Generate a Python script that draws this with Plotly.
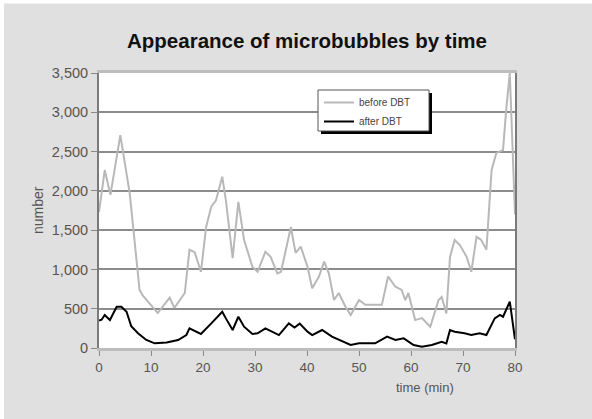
import plotly.graph_objects as go

# ---- data ----
before_t = [0, 1.1, 2.2, 4.1, 5.9, 7.8, 8.4, 11.3, 13.6, 14.5, 16.5, 17.4, 18.4, 19.6,
            20.6, 21.6, 22.5, 23.7, 24.4, 25.7, 26.8, 27.9, 29.5, 30.5, 32, 33, 34.3,
            35, 36.9, 37.8, 38.8, 40.1, 41, 42.3, 43.3, 44.2, 45.2, 46.1, 47.4, 48.4,
            50, 51.2, 54.4, 55.6, 57, 58.2, 58.9, 59.5, 60.8, 62.1, 63.7, 65.3, 65.9,
            66.8, 67.5, 68.4, 69.4, 70.7, 71.6, 72.6, 73.5, 74.5, 75.5, 76.4, 77.7,
            78.3, 79, 80]
before_v = [1730, 2265, 1950, 2710, 1970, 740, 670, 445, 640, 510, 700, 1250, 1220, 970,
            1540, 1800, 1880, 2180, 1880, 1145, 1860, 1375, 1035, 970, 1225, 1160, 950,
            970, 1540, 1210, 1290, 1035, 760, 910, 1100, 950, 610, 700, 525, 420,
            610, 550, 550, 910, 780, 740, 610, 700, 355, 380, 270, 610, 650,
            440, 1160, 1375, 1310, 1160, 970, 1415, 1375, 1250, 2265, 2480, 2520,
            3030, 3500, 1700]

after_t = [0, 0.5, 1.1, 2.1, 3.4, 4.3, 5.3, 6.2, 7.5, 9.1, 10.7, 13, 15.2, 16.8, 17.4,
           18.7, 19.6, 21.6, 23.7, 24.4, 25.7, 26.8, 27.9, 29.5, 30.5, 32, 33.3, 34.6,
           36.5, 37.6, 38.6, 40.1, 41, 42.9, 44.8, 46.8, 48.4, 50, 53.1, 55.4, 57,
           58.6, 60.5, 62.1, 64, 65.9, 66.8, 67.5, 68.4, 70.3, 71.6, 73.2, 74.5, 76.1,
           77.1, 77.7, 79, 80]
after_v = [350, 360, 420, 356, 525, 525, 462, 276, 187, 102, 59, 70, 102, 165, 250,
           208, 178, 314, 462, 377, 229, 398, 271, 178, 187, 250, 208, 165,
           314, 260, 310, 208, 165, 229, 144, 80, 38, 59, 59, 144, 102,
           123, 38, 17, 38, 80, 59, 229, 208, 187, 165, 187, 165, 377,
           420, 398, 589, 110]

x_ticks = [0, 10, 20, 30, 40, 50, 60, 70, 80]
y_ticks = [0, 500, 1000, 1500, 2000, 2500, 3000, 3500]
y_tick_labels = ["0", "500", "1,000", "1,500", "2,000", "2,500", "3,000", "3,500"]

series_names = ["before DBT", "after DBT"]
title_text = "Appearance of microbubbles by time"
x_title = "time (min)"
y_title = "number"

assert len(before_t) == len(before_v)
assert len(after_t) == len(after_v)

# ---- figure ----
W, H = 592, 419
L, R, T, B = 99, 77, 73, 71
pw, ph = W - L - R, H - T - B

def px_x(p):
    return (p - L) / pw

def px_y(p):
    return (H - B - p) / ph

font_main = "Liberation Sans Narrow, Liberation Sans, Arial, sans-serif"

fig = go.Figure()
fig.add_trace(go.Scatter(x=before_t, y=before_v, mode="lines", name=series_names[0],
                         line=dict(color="#b8b8b8", width=2)))
fig.add_trace(go.Scatter(x=after_t, y=after_v, mode="lines", name=series_names[1],
                         line=dict(color="#000000", width=2)))

fig.update_layout(
    width=W, height=H,
    margin=dict(l=L, r=R, t=T, b=B, pad=0),
    paper_bgcolor="#e0e0e0",
    plot_bgcolor="#ffffff",
    title=dict(text="<b>" + title_text + "</b>", x=0.5, xref="paper",
               y=1 - 41 / H, yref="container", yanchor="middle", xanchor="center",
               font=dict(family=font_main, size=20.5, color="#111111")),
    showlegend=True,
    legend=dict(x=px_x(319), y=px_y(88), xanchor="left", yanchor="top",
                bgcolor="rgba(0,0,0,0)", borderwidth=0,
                font=dict(family=font_main, size=10, color="#444444"),
                tracegroupgap=0, itemwidth=30),
    xaxis=dict(range=[0, 80], tickvals=x_ticks, ticktext=[str(v) for v in x_ticks],
               showgrid=False, zeroline=False,
               showline=True, linecolor="#bdbdbd", linewidth=3, mirror=True,
               ticks="outside", ticklen=5, tickwidth=1, tickcolor="#888888",
               tickfont=dict(family=font_main, size=13.5, color="#555555")),
    yaxis=dict(range=[0, 3500], tickvals=y_ticks, ticktext=y_tick_labels,
               showgrid=True, gridcolor="#8c8c8c", gridwidth=2, zeroline=False,
               showline=True, linecolor="#7a7a7a", linewidth=2, mirror=True,
               ticks="outside", ticklen=6, tickwidth=1, tickcolor="#888888",
               tickfont=dict(family=font_main, size=14.5, color="#555555")),
)

# legend drop shadow and box
fig.add_shape(type="rect", xref="paper", yref="paper",
              x0=px_x(321), x1=px_x(432), y0=px_y(134), y1=px_y(93),
              fillcolor="#000000", line=dict(width=0), layer="above")
fig.add_shape(type="rect", xref="paper", yref="paper",
              x0=px_x(318), x1=px_x(429), y0=px_y(131), y1=px_y(90),
              fillcolor="#ffffff", line=dict(color="#555555", width=1), layer="above")
# thin white frame at top and left edge of the image
fig.add_shape(type="rect", xref="paper", yref="paper",
              x0=px_x(0), x1=px_x(W), y0=px_y(0), y1=px_y(3.5),
              fillcolor="#ffffff", line=dict(width=0), layer="above")
fig.add_shape(type="rect", xref="paper", yref="paper",
              x0=px_x(0), x1=px_x(4), y0=px_y(0), y1=px_y(H),
              fillcolor="#ffffff", line=dict(width=0), layer="above")

fig.add_annotation(text=x_title, xref="paper", yref="paper",
                   x=px_x(456), y=px_y(387), xanchor="right", yanchor="middle",
                   showarrow=False, font=dict(family=font_main, size=13, color="#555555"))
fig.add_annotation(text=y_title, xref="paper", yref="paper",
                   x=px_x(38), y=px_y(210), xanchor="center", yanchor="middle",
                   textangle=-90, showarrow=False,
                   font=dict(family=font_main, size=14, color="#555555"))

fig.write_html("out.html", config={"displayModeBar": False},
               post_script="document.body.style.margin='0px';document.documentElement.style.overflow='hidden';")
